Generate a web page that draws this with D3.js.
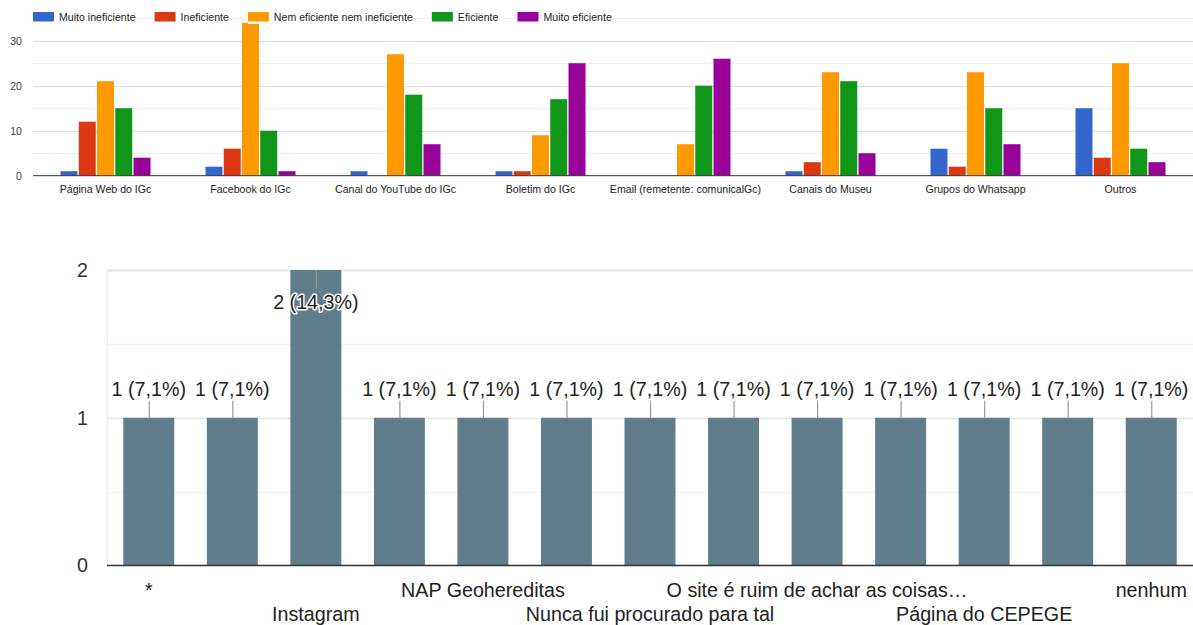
<!DOCTYPE html>
<html>
<head>
<meta charset="utf-8">
<script src="https://cdn.jsdelivr.net/npm/d3@7"></script>
<style>
  html, body { margin: 0; padding: 0; background: #fff; }
  svg { display: block; font-family: Arial, "Liberation Sans", sans-serif; }
</style>
</head>
<body>
<svg id="chart" width="1193" height="625"></svg>
<script>
// ---- Top chart: rating of each communication channel ----
const channels = [
  "Página Web do IGc", "Facebook do IGc", "Canal do YouTube do IGc", "Boletim do IGc",
  "Email (remetente: comunicalGc)", "Canais do Museu", "Grupos do Whatsapp", "Outros"
];
const ratingNames = ["Muito ineficiente", "Ineficiente", "Nem eficiente nem ineficiente", "Eficiente", "Muito eficiente"];
const ratingColors = ["#3366cc", "#dc3912", "#ff9900", "#109618", "#990099"];
const muitoIneficiente = [1, 2, 1, 1, 0, 1, 6, 15];
const ineficiente      = [12, 6, 0, 1, 0, 3, 2, 4];
const nemNem           = [21, 34, 27, 9, 7, 23, 23, 25];
const eficiente        = [15, 10, 18, 17, 20, 21, 15, 6];
const muitoEficiente   = [4, 1, 7, 25, 26, 5, 7, 3];
const topTicks = [0, 10, 20, 30];

// ---- Bottom chart: other channels mentioned ----
const otherLabels = [
  "*", null, "Instagram", null, "NAP Geohereditas", null, "Nunca fui procurado para tal",
  null, "O site é ruim de achar as coisas…", null, "Página do CEPEGE", null, "nenhum"
];
const otherCounts = [1, 1, 2, 1, 1, 1, 1, 1, 1, 1, 1, 1, 1];
const otherTotal = 14;
const bottomTicks = [0, 1, 2];

const svg = d3.select("#chart");
const seriesValues = [muitoIneficiente, ineficiente, nemNem, eficiente, muitoEficiente];

// ===== Top grouped bar chart =====
const tLeft = 33, tRight = 1193;
const yT = d3.scaleLinear().domain([0, 35]).range([175.7, 18.2]);
const x0 = d3.scaleBand().domain(channels).range([tLeft, tRight]);
const groupW = 90;
const x1 = d3.scaleBand().domain(d3.range(ratingNames.length)).range([0, groupW]).paddingInner(0.07);

const topG = svg.append("g");
// gridlines
topG.append("g").selectAll("line")
  .data(d3.range(5, 36, 5))
  .join("line")
  .attr("x1", tLeft).attr("x2", tRight)
  .attr("y1", d => Math.round(yT(d)) + 0.5).attr("y2", d => Math.round(yT(d)) + 0.5)
  .attr("stroke", d => d % 10 === 0 ? "#dedede" : "#efefef")
  .attr("stroke-width", 1);

// bars
const groups = topG.append("g").selectAll("g")
  .data(channels)
  .join("g")
  .attr("transform", c => `translate(${x0(c) + (x0.bandwidth() - groupW) / 2},0)`);
groups.selectAll("rect")
  .data((c, ci) => seriesValues.map((vals, si) => ({ si, v: vals[ci] })).filter(d => d.v > 0))
  .join("rect")
  .attr("x", d => x1(d.si))
  .attr("width", x1.bandwidth())
  .attr("y", d => yT(d.v))
  .attr("height", d => yT(0) - yT(d.v))
  .attr("fill", d => ratingColors[d.si]);

// baseline
topG.append("line")
  .attr("x1", tLeft).attr("x2", tRight)
  .attr("y1", yT(0)).attr("y2", yT(0))
  .attr("stroke", "#333").attr("stroke-width", 1);

// y axis labels
const yAxisT = topG.append("g")
  .attr("transform", `translate(${tLeft},0)`)
  .call(d3.axisLeft(yT).tickValues(topTicks).tickSize(0).tickPadding(11));
yAxisT.select(".domain").remove();
yAxisT.selectAll("text").attr("font-size", 10.6).attr("fill", "#444").attr("font-family", null);

// x axis labels
const xAxisT = topG.append("g")
  .attr("transform", `translate(0,${yT(0)})`)
  .call(d3.axisBottom(x0).tickSize(0));
xAxisT.select(".domain").remove();
xAxisT.selectAll("text")
  .attr("y", 17.3).attr("dy", 0)
  .attr("font-size", 10.6).attr("fill", "#222").attr("font-family", null);

// legend
const legend = topG.append("g");
let lx = 33;
ratingNames.forEach((name, i) => {
  const item = legend.append("g");
  const bg = item.append("rect").attr("fill", "#fff").attr("y", 9).attr("height", 15);
  item.append("rect")
    .attr("x", lx).attr("y", 12).attr("width", 21).attr("height", 9.5)
    .attr("fill", ratingColors[i]);
  const t = item.append("text")
    .attr("x", lx + 26).attr("y", 20.5)
    .attr("font-size", 10.6).attr("fill", "#222")
    .text(name);
  const w = t.node().getComputedTextLength();
  bg.attr("x", lx).attr("width", 26 + w);
  lx = lx + 26 + w + 19;
});

// ===== Bottom bar chart =====
const bLeft = 107, bRight = 1193;
const yB = d3.scaleLinear().domain([0, 2]).range([565.5, 270]);
const xB = d3.scaleBand().domain(d3.range(otherCounts.length)).range([bLeft, bRight])
  .paddingInner(0.39).paddingOuter(0.195);

const botG = svg.append("g");
botG.append("g").selectAll("line")
  .data([0.5, 1, 1.5, 2])
  .join("line")
  .attr("x1", bLeft).attr("x2", bRight)
  .attr("y1", d => Math.round(yB(d)) + 0.5).attr("y2", d => Math.round(yB(d)) + 0.5)
  .attr("stroke", d => d % 1 === 0 ? "#e6e6e6" : "#f3f3f3")
  .attr("stroke-width", d => d === 2 ? 2 : 1.5);
botG.append("line")
  .attr("x1", bLeft + 0.5).attr("x2", bLeft + 0.5)
  .attr("y1", yB(2)).attr("y2", yB(0))
  .attr("stroke", "#eeeeee").attr("stroke-width", 1.5);

botG.append("g").selectAll("rect")
  .data(otherCounts)
  .join("rect")
  .attr("x", (d, i) => xB(i))
  .attr("width", xB.bandwidth())
  .attr("y", d => yB(d))
  .attr("height", d => yB(0) - yB(d))
  .attr("fill", "#607d8b");

botG.append("line")
  .attr("x1", bLeft).attr("x2", bRight)
  .attr("y1", yB(0)).attr("y2", yB(0))
  .attr("stroke", "#333").attr("stroke-width", 1.6);

// value labels with leader lines
const fmtPct = v => d3.format(".1f")(v * 100 / otherTotal).replace(".", ",") + "%";
const labelG = botG.append("g").selectAll("g")
  .data(otherCounts)
  .join("g");
labelG.each(function (d, i) {
  const g = d3.select(this);
  const cx = xB(i) + xB.bandwidth() / 2;
  const inside = d >= yB.domain()[1];
  const yTop = yB(d);
  g.append("line")
    .attr("x1", cx + 0.5).attr("x2", cx + 0.5)
    .attr("y1", yTop).attr("y2", inside ? yTop + 19 : yTop - 17)
    .attr("stroke", "#999").attr("stroke-width", 1.2);
  g.append("text")
    .attr("x", cx).attr("y", inside ? yTop + 38.5 : yTop - 22)
    .attr("text-anchor", "middle")
    .attr("font-size", 19.7).attr("fill", "#222")
    .attr("stroke", inside ? "#fff" : "none").attr("stroke-width", 3)
    .attr("stroke-linejoin", "round").attr("paint-order", "stroke")
    .text(`${d} (${fmtPct(d)})`);
});

// y axis labels
const yAxisB = botG.append("g")
  .attr("transform", `translate(${bLeft},0)`)
  .call(d3.axisLeft(yB).tickValues(bottomTicks).tickFormat(d3.format("d")).tickSize(0).tickPadding(19));
yAxisB.select(".domain").remove();
yAxisB.selectAll("text").attr("font-size", 19.7).attr("fill", "#333").attr("font-family", null);

// x axis labels, staggered over two rows
const xAxisB = botG.append("g")
  .attr("transform", `translate(0,${yB(0)})`)
  .call(d3.axisBottom(xB).tickSize(0).tickFormat(i => otherLabels[i] || ""));
xAxisB.select(".domain").remove();
let shown = 0;
xAxisB.selectAll("text").each(function (i) {
  const row = otherLabels[i] ? (shown++) % 2 : 0;
  d3.select(this)
    .attr("y", row === 0 ? 31.5 : 55.5).attr("dy", 0)
    .attr("font-size", 19.7).attr("fill", "#222").attr("font-family", null);
});
</script>
</body>
</html>
